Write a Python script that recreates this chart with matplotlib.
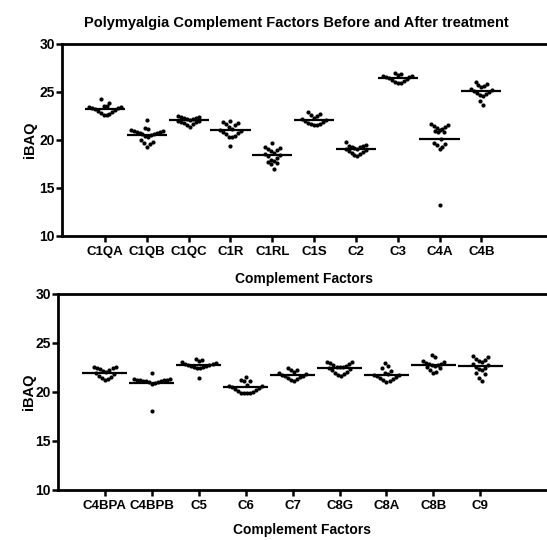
import numpy as np
import matplotlib
matplotlib.use("Agg")
import matplotlib.pyplot as plt

plt.rcParams['font.family'] = ['Liberation Sans', 'DejaVu Sans']
plt.rcParams['font.weight'] = 'bold'

top_categories = ["C1QA", "C1QB", "C1QC", "C1R", "C1RL", "C1S", "C2", "C3", "C4A", "C4B"]
C1QA = [24.2, 23.8, 23.5, 23.5, 23.4, 23.3, 23.2, 23.1, 23.0, 22.9, 22.8, 22.7, 22.6, 22.6, 23.4, 23.3]
C1QB = [22.1, 21.2, 21.1, 21.0, 20.9, 20.8, 20.8, 20.7, 20.7, 20.6, 20.5, 20.4, 20.3, 20.0, 19.8, 19.7, 19.6, 19.3, 20.6, 20.9]
C1QC = [22.5, 22.4, 22.4, 22.3, 22.3, 22.2, 22.1, 22.0, 21.9, 21.8, 21.7, 21.5, 21.3, 22.2, 22.0, 21.9]
C1R = [22.0, 21.9, 21.8, 21.6, 21.5, 21.3, 21.1, 21.0, 20.9, 20.8, 20.7, 20.6, 20.4, 20.3, 20.3, 19.4]
C1RL = [19.7, 19.3, 19.2, 19.1, 18.9, 18.8, 18.6, 18.5, 18.4, 18.3, 18.1, 17.9, 17.8, 17.7, 17.6, 17.5, 17.0]
C1S = [22.9, 22.7, 22.6, 22.5, 22.3, 22.2, 22.1, 22.0, 21.9, 21.8, 21.7, 21.6, 21.5, 21.5]
C2 = [19.8, 19.5, 19.4, 19.4, 19.3, 19.3, 19.2, 19.1, 19.0, 18.9, 18.8, 18.7, 18.6, 18.5, 18.4, 18.3]
C3 = [27.0, 26.8, 26.7, 26.6, 26.6, 26.5, 26.5, 26.4, 26.3, 26.2, 26.1, 26.0, 25.9, 25.9]
C4A = [21.7, 21.5, 21.4, 21.3, 21.2, 21.1, 21.0, 20.9, 20.8, 20.8, 20.1, 19.7, 19.6, 19.5, 19.3, 19.1, 13.2]
C4B = [26.0, 25.8, 25.7, 25.6, 25.5, 25.3, 25.2, 25.1, 25.0, 24.9, 24.8, 24.7, 24.6, 24.0, 23.6]
top_values = [C1QA, C1QB, C1QC, C1R, C1RL, C1S, C2, C3, C4A, C4B]

bottom_categories = ["C4BPA", "C4BPB", "C5", "C6", "C7", "C8G", "C8A", "C8B", "C9"]
C4BPA = [22.6, 22.5, 22.4, 22.4, 22.3, 22.2, 22.1, 22.0, 21.9, 21.8, 21.6, 21.5, 21.4, 21.3, 21.2]
C4BPB = [21.3, 21.2, 21.2, 21.2, 21.1, 21.1, 21.1, 21.0, 21.0, 20.9, 20.8, 21.9, 18.1, 21.2, 21.3]
C5 = [23.4, 23.3, 23.2, 23.1, 23.0, 22.9, 22.9, 22.8, 22.8, 22.7, 22.7, 22.6, 22.5, 22.4, 22.4, 21.4]
C6 = [21.5, 21.2, 21.1, 21.1, 20.7, 20.6, 20.5, 20.4, 20.3, 20.2, 20.1, 20.0, 19.9, 19.9, 19.9, 19.9, 20.6]
C7 = [22.4, 22.2, 22.2, 22.0, 21.9, 21.8, 21.7, 21.6, 21.5, 21.4, 21.3, 21.2, 21.1, 21.6]
C8G = [23.1, 23.1, 23.0, 22.9, 22.8, 22.7, 22.6, 22.5, 22.4, 22.3, 22.2, 22.0, 21.9, 21.8, 21.7, 21.6, 22.5]
C8A = [23.0, 22.7, 22.4, 22.1, 21.9, 21.8, 21.7, 21.7, 21.6, 21.5, 21.4, 21.3, 21.2, 21.1, 21.0]
C8B = [23.8, 23.6, 23.2, 23.1, 23.0, 22.9, 22.9, 22.8, 22.8, 22.7, 22.6, 22.4, 22.2, 22.0, 21.9]
C9 = [23.7, 23.6, 23.4, 23.3, 23.2, 23.1, 22.9, 22.8, 22.6, 22.4, 22.3, 22.2, 21.9, 21.8, 21.4, 21.1]
bottom_values = [C4BPA, C4BPB, C5, C6, C7, C8G, C8A, C8B, C9]

yticks = [10, 15, 20, 25, 30]


def swarm_offsets(vals, step, binw):
    """Prism-like column scatter: group close values in rows, lowest in centre."""
    vals = np.asarray(vals, dtype=float)
    offs = np.zeros(len(vals))
    order = list(np.argsort(vals))
    rows = []
    cur = []
    for k in order:
        if cur and vals[k] - vals[cur[0]] > binw:
            rows.append(cur)
            cur = []
        cur.append(k)
    if cur:
        rows.append(cur)
    for idx in rows:
        n = len(idx)
        for j, k in enumerate(idx):
            if n % 2 == 1:
                m = (j + 1) // 2
                sgn = 1 if j % 2 == 1 else -1
                offs[k] = sgn * m * step if j > 0 else 0.0
            else:
                m = j // 2 + 0.5
                sgn = 1 if j % 2 == 0 else -1
                offs[k] = sgn * m * step
    return offs


fig = plt.figure(figsize=(5.47, 5.40), dpi=100)
ax1 = fig.add_axes([0.1133, 0.563, 0.8867, 0.356])
ax2 = fig.add_axes([0.106, 0.0926, 0.894, 0.363])


def draw(ax, cats, values, xmin, xmax, step, binw):
    for i, v in enumerate(values):
        offs = swarm_offsets(v, step, binw)
        ax.plot(i + offs, v, 'o', color='black', markersize=3.0, markeredgewidth=0)
        m = np.mean(v)
        ax.plot([i - 0.48, i + 0.48], [m, m], color='black', lw=1.6, solid_capstyle='butt')
    ax.set_xlim(xmin, xmax)
    ax.set_ylim(10, 30)
    ax.set_yticks(yticks)
    ax.set_xticks(range(len(cats)))
    ax.set_xticklabels(cats, fontsize=9.5, fontweight='bold')
    ax.tick_params(axis='y', labelsize=10, direction='out', length=4, width=1.8, pad=1)
    ax.tick_params(axis='x', direction='out', length=4, width=1.8, pad=3)
    for lab in ax.get_yticklabels():
        lab.set_fontweight('bold')
    for s in ['left', 'bottom', 'top']:
        ax.spines[s].set_linewidth(2.0)
    ax.spines['right'].set_visible(False)


draw(ax1, top_categories, top_values, -1.03, 10.57, 0.07, 0.8)
draw(ax2, bottom_categories, bottom_values, -1.0, 9.42, 0.065, 0.8)

ax1.set_ylabel('iBAQ', fontsize=10.5, fontweight='bold', labelpad=2)
ax2.set_ylabel('iBAQ', fontsize=10.5, fontweight='bold', labelpad=0)
ax1.set_xlabel('Complement Factors', fontsize=10, fontweight='bold', labelpad=10)
ax2.set_xlabel('Complement Factors', fontsize=10, fontweight='bold', labelpad=8)
fig.text(0.541, 0.958, 'Polymyalgia Complement Factors Before and After treatment',
         ha='center', va='center', fontsize=10.5, fontweight='bold')

fig.savefig('out.png', dpi=100)
